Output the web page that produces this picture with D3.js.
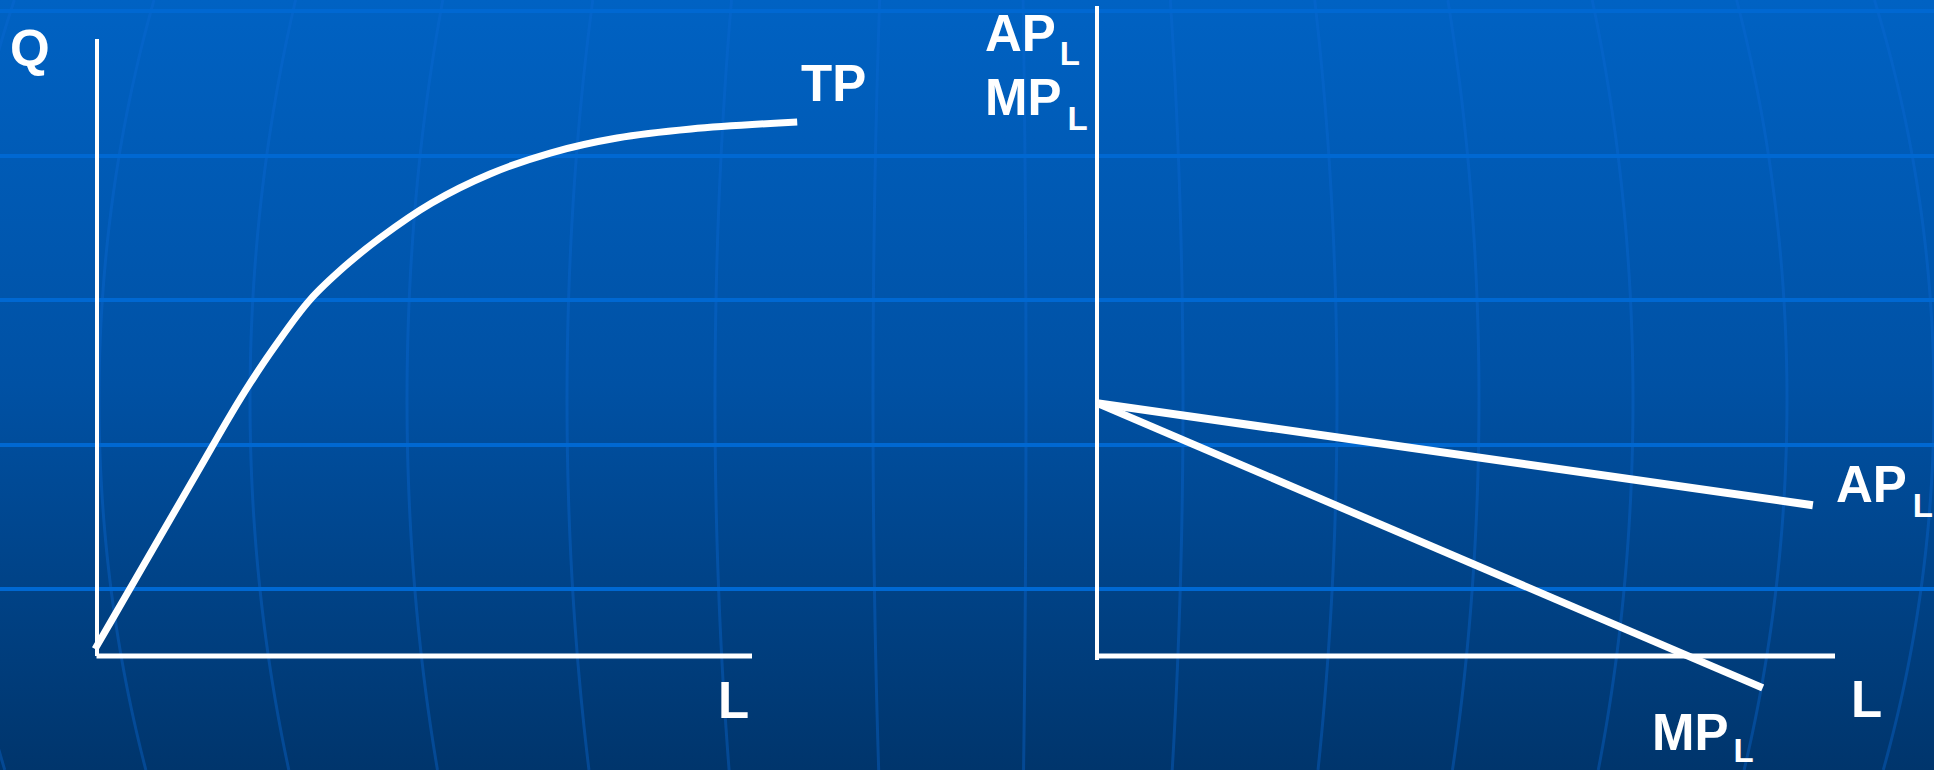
<!DOCTYPE html>
<html>
<head>
<meta charset="utf-8">
<script src="https://cdn.jsdelivr.net/npm/d3@7"></script>
<style>
  html, body { margin: 0; padding: 0; background: #00468c; }
  svg { display: block; }
  text { font-family: "Liberation Sans", Arial, sans-serif; font-weight: bold; fill: #ffffff; }
</style>
</head>
<body>
<svg id="chart" width="1934" height="770"></svg>
<script>
// ---- Total product curve (left panel): labour L vs output Q ----
const tpLabour = [-0.03, 0.43, 0.96, 1.57, 2.03, 2.34, 2.72, 3.25, 3.79, 4.32, 5.11, 6.00, 6.92, 7.94, 9.07, 10.69];
const tpOutput = [1.13, 9.56, 19.29, 30.47, 38.9, 44.25, 50.24, 57.70, 63.21, 67.75, 73.42, 78.12, 81.52, 83.95, 85.41, 86.55];

// ---- Average and marginal product of labour (right panel) ----
const apLabour = [0, 9.70];
const apValue  = [38.9, 23.2];
const mpLabour = [0, 9.02];
const mpValue  = [38.9, -4.9];

// ---- Axis extents (in data units) ----
const leftAxisL  = [0, 10];
const leftAxisQ  = [0, 100];
const rightAxisL = [0, 10];
const rightAxisV = [-0.6, 100];

// ---- Background decoration: horizontal rules and globe meridians ----
const ruleY = [11, 156, 300, 445, 589];
const meridianOffsets = [-1030, -881, -730, -573, -413, -265, -107, 46, 203, 357, 499, 653, 807, 954];

const W = 1934, H = 770;
const svg = d3.select("#chart");

// background gradient
const defs = svg.append("defs");
const grad = defs.append("linearGradient").attr("id", "bg").attr("x1", 0).attr("y1", 0).attr("x2", 0).attr("y2", 1);
grad.append("stop").attr("offset", "0%").attr("stop-color", "#0062c3");
grad.append("stop").attr("offset", "50%").attr("stop-color", "#0051a4");
grad.append("stop").attr("offset", "100%").attr("stop-color", "#00356c");
svg.append("rect").attr("width", W).attr("height", H).attr("fill", "url(#bg)");

// meridians of a large sphere
const cx = 980, cy = 400, R = 1150;
const ys = d3.range(0, H + 1, 10);
const meridian = d3.line().x(d => d[0]).y(d => d[1]).curve(d3.curveBasis);
svg.append("g").selectAll("path").data(meridianOffsets).join("path")
  .attr("d", off => meridian(ys.map(y => [cx + off * Math.sqrt(1 - Math.pow((y - cy) / R, 2)), y])))
  .attr("fill", "none").attr("stroke", "#0a6ad4").attr("stroke-opacity", 0.38).attr("stroke-width", 3);

svg.append("g").selectAll("line").data(ruleY).join("line")
  .attr("x1", 0).attr("x2", W).attr("y1", d => d).attr("y2", d => d)
  .attr("stroke", "#0068d2").attr("stroke-width", 4);

// ---- Left panel scales ----
const xL = d3.scaleLinear().domain([0, 10]).range([97, 752]);
const yL = d3.scaleLinear().domain([0, 100]).range([656, 39]);

// ---- Right panel scales ----
const xR = d3.scaleLinear().domain([0, 10]).range([1097, 1835]);
const yR = d3.scaleLinear().domain([0, 100]).range([656, 6]);

const axes = svg.append("g").attr("stroke", "#ffffff").attr("stroke-linecap", "butt");
// left axes
axes.append("line").attr("x1", xL(0)).attr("x2", xL(0)).attr("y1", yL(leftAxisQ[1])).attr("y2", yL(leftAxisQ[0]))
  .attr("stroke-width", 4);
axes.append("line").attr("x1", xL(leftAxisL[0]) - 0.5).attr("x2", xL(leftAxisL[1])).attr("y1", yL(0)).attr("y2", yL(0))
  .attr("stroke-width", 5);
// right axes
axes.append("line").attr("x1", xR(0)).attr("x2", xR(0)).attr("y1", yR(rightAxisV[1])).attr("y2", yR(rightAxisV[0]))
  .attr("stroke-width", 4);
axes.append("line").attr("x1", xR(rightAxisL[0])).attr("x2", xR(rightAxisL[1])).attr("y1", yR(0)).attr("y2", yR(0))
  .attr("stroke-width", 5);

// TP curve
const tpLine = d3.line().x(d => xL(d[0])).y(d => yL(d[1])).curve(d3.curveCatmullRom.alpha(0.5));
svg.append("path").attr("d", tpLine(d3.zip(tpLabour, tpOutput)))
  .attr("fill", "none").attr("stroke", "#ffffff").attr("stroke-width", 7);

// AP and MP lines
const rLine = d3.line().x(d => xR(d[0])).y(d => yR(d[1]));
svg.append("path").attr("d", rLine(d3.zip(apLabour, apValue)))
  .attr("fill", "none").attr("stroke", "#ffffff").attr("stroke-width", 8);
svg.append("path").attr("d", rLine(d3.zip(mpLabour, mpValue)))
  .attr("fill", "none").attr("stroke", "#ffffff").attr("stroke-width", 7.5);

// ---- Labels ----
const labels = svg.append("g");
function label(x, y, main, sub, subDx, subDy) {
  const t = labels.append("text").attr("x", x).attr("y", y).attr("font-size", 51);
  t.append("tspan").text(main);
  if (sub) t.append("tspan").attr("font-size", 33).attr("dx", subDx).attr("dy", subDy).text(sub);
}
label(10, 66, "Q");
label(801, 101, "TP");
label(718, 718, "L");
label(985, 51, "AP", "L", 4, 14);
label(985, 115, "MP", "L", 6, 15);
label(1836, 502, "AP", "L", 6, 15);
label(1652, 750, "MP", "L", 5, 12);
label(1851, 717, "L");
</script>
</body>
</html>
